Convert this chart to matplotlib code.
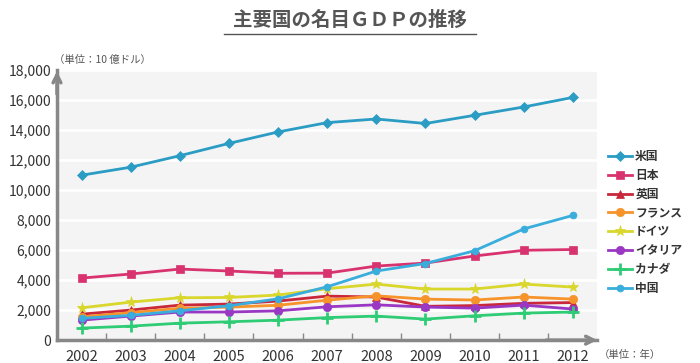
import matplotlib.pyplot as plt

plt.rcParams['font.family'] = ['Noto Sans CJK JP', 'DejaVu Sans']

years = ['2002', '2003', '2004', '2005', '2006', '2007', '2008', '2009', '2010', '2011', '2012']
names = ['米国', '日本', '英国', 'フランス', 'ドイツ', 'イタリア', 'カナダ', '中国']

us = [10977, 11510, 12275, 13094, 13856, 14478, 14719, 14419, 14964, 15518, 16155]
japan = [4130, 4400, 4730, 4600, 4450, 4460, 4930, 5130, 5600, 5980, 6030]
uk = [1730, 2000, 2330, 2400, 2600, 2930, 2870, 2250, 2300, 2450, 2500]
france = [1550, 1830, 2120, 2200, 2320, 2660, 2950, 2730, 2670, 2870, 2730]
germany = [2150, 2530, 2820, 2840, 3000, 3420, 3730, 3400, 3400, 3730, 3530]
italy = [1330, 1600, 1870, 1870, 1950, 2220, 2350, 2200, 2130, 2330, 2070]
canada = [800, 930, 1130, 1220, 1330, 1500, 1600, 1400, 1620, 1800, 1870]
china = [1450, 1650, 1950, 2290, 2750, 3550, 4600, 5100, 5950, 7400, 8300]

series = [us, japan, uk, france, germany, italy, canada, china]
colors = ['#2b9cc4', '#d8336f', '#c8283a', '#f7932b', '#d9d62c', '#9a38c4', '#2ecc74', '#39addc']
markers = ['D', 's', '^', 'o', '*', 'o', '+', 'o']
msizes = [5, 6, 6, 6, 8, 6, 8, 5]

fig = plt.figure(figsize=(7, 3.63), dpi=100)
ax = fig.add_axes([0.0814, 0.063, 0.772, 0.745])
ax.set_facecolor('#f4f4f4')

x = list(range(len(years)))
for vals, name, c, m, ms in zip(series, names, colors, markers, msizes):
    ax.plot(x, vals, color=c, marker=m, markersize=ms, linewidth=2,
            markeredgewidth=2 if m == '+' else 0.5, markeredgecolor=c,
            label=name, clip_on=False)

ax.set_xlim(-0.5, 10.5)
ax.set_ylim(0, 18000)
ax.set_yticks(range(0, 18001, 2000))
ax.set_yticklabels([f'{v:,}' for v in range(0, 18001, 2000)], fontsize=10, color='#333333')
ax.set_xticks(x)
ax.set_xticklabels(years, fontsize=10.5, color='#333333')
ax.set_xticks([i + 0.5 for i in range(10)], minor=True)
ax.tick_params(axis='x', which='major', length=0, pad=7)
ax.tick_params(axis='x', which='minor', length=5, color='#888888', width=1, direction='in')
ax.tick_params(axis='y', length=0, pad=4)
ax.grid(axis='y', color='white', linewidth=2)
ax.set_axisbelow(True)

for s in ['top', 'right']:
    ax.spines[s].set_visible(False)
for s in ['left', 'bottom']:
    ax.spines[s].set_color('#888888')
    ax.spines[s].set_linewidth(2.5)

# arrow heads
ax.annotate('', xy=(0, 1.005), xytext=(0, 0.9), xycoords='axes fraction',
            arrowprops=dict(arrowstyle='->', color='#888888', lw=2.5, mutation_scale=14))
ax.annotate('', xy=(1.005, 0), xytext=(0.9, 0), xycoords='axes fraction',
            arrowprops=dict(arrowstyle='->', color='#888888', lw=2.5, mutation_scale=14))

leg = ax.legend(loc='center left', bbox_to_anchor=(1.0, 0.435), frameon=False,
                fontsize=8.5, handlelength=2.0, handletextpad=0.3, labelspacing=0.5)
for t in leg.get_texts():
    t.set_fontweight('bold')
    t.set_color('#333333')

fig.text(0.5, 0.945, '主要国の名目ＧＤＰの推移', ha='center', va='center',
         fontsize=14, fontweight='bold', color='#555555')
fig.add_artist(plt.Line2D([0.32, 0.68], [0.905, 0.905], color='#555555', linewidth=1))
fig.text(0.077, 0.835, '（単位：10 億ドル）', ha='left', va='center', fontsize=7.5, color='#555555')
fig.text(0.855, 0.022, '（単位：年）', ha='left', va='center', fontsize=7.5, color='#555555')

fig.savefig('out.png', dpi=100)
